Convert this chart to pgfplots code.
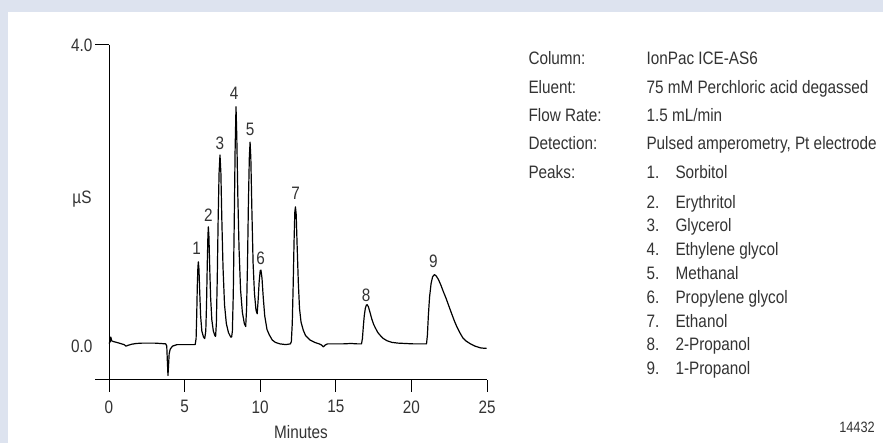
\documentclass[border=0pt]{standalone}
\usepackage{fontspec}
\setmainfont{Liberation Sans}[FakeStretch=0.85]
\usepackage{pgfplots}
\pgfplotsset{compat=1.18}
\definecolor{panel}{HTML}{DDE3EF}
\definecolor{txt}{HTML}{333333}

\begin{document}
\begin{tikzpicture}[x=1bp,y=1bp,font=\fontsize{18bp}{21bp}\selectfont]
\fill[panel] (0,0) rectangle (883,443);
\fill[white] (8,0) rectangle (883,431);
\begin{axis}[
  at={(109bp,63bp)}, anchor=south west,
  scale only axis, width=378bp, height=335bp,
  xmin=0, xmax=25, ymin=-0.45, ymax=4,
  axis lines=left, axis line style={-, line width=1bp, black},
  xtick={0,5,10,15,20,25},
  ytick={0,4}, yticklabels={0.0,4.0},
  tick align=outside, major tick length=12bp,
  xtick style={line width=1bp, black},
  ytick style={draw=none},
  ticklabel style={font=\fontsize{18bp}{21bp}\selectfont, text=txt},
  xticklabel style={yshift=-5bp},
  yticklabel style={xshift=-1bp},
  /pgf/number format/assume math mode=true,
  clip=false,
]
% chromatogram trace
\addplot[black, line width=1.2bp, line join=round] coordinates {
  (0.00,0.035) (0.08,0.06) (0.12,0.12) (0.18,0.07) (0.30,0.06) (0.50,0.05)
  (0.75,0.035) (1.00,0.02) (1.12,0.00) (1.25,0.01) (1.50,0.025) (1.80,0.035)
  (2.20,0.04) (2.60,0.04) (3.00,0.04) (3.40,0.035) (3.75,0.03) (3.82,0.00)
  (3.86,-0.20) (3.90,-0.39) (3.94,-0.25) (3.98,-0.10) (4.05,-0.04) (4.20,0.00)
  (4.50,0.02) (5.00,0.02) (5.50,0.02) (5.70,0.02)
  % peak 1
  (5.76,0.10) (5.80,0.40) (5.84,0.80) (5.88,1.05) (5.91,1.12) (5.95,1.02)
  (6.00,0.72) (6.06,0.40) (6.14,0.20) (6.25,0.12) (6.33,0.10)
  % peak 2
  (6.40,0.20) (6.45,0.55) (6.50,1.10) (6.54,1.45) (6.57,1.585) (6.61,1.45)
  (6.66,1.05) (6.72,0.65) (6.80,0.35) (6.90,0.20) (7.00,0.14) (7.05,0.13)
  % peak 3
  (7.10,0.30) (7.16,0.90) (7.22,1.70) (7.28,2.30) (7.34,2.54) (7.40,2.30)
  (7.46,1.70) (7.54,1.05) (7.64,0.55) (7.76,0.30) (7.90,0.18) (8.05,0.12)
  (8.11,0.12)
  % peak 4
  (8.16,0.20) (8.22,0.70) (8.28,1.60) (8.34,2.60) (8.40,3.18) (8.45,2.80)
  (8.52,2.00) (8.60,1.30) (8.70,0.75) (8.82,0.45) (8.95,0.30) (9.04,0.26)
  % peak 5
  (9.10,0.50) (9.16,1.10) (9.22,1.90) (9.28,2.50) (9.33,2.71) (9.38,2.50)
  (9.45,1.80) (9.53,1.10) (9.62,0.70) (9.72,0.48) (9.80,0.43)
  % peak 6
  (9.86,0.60) (9.93,0.85) (10.00,1.00) (10.05,1.01) (10.12,0.90) (10.20,0.65)
  (10.30,0.40) (10.45,0.22) (10.60,0.15) (10.80,0.08) (11.00,0.05) (11.30,0.03)
  (11.70,0.02) (12.00,0.03)
  % peak 7
  (12.06,0.06) (12.12,0.30) (12.18,0.80) (12.24,1.40) (12.29,1.78) (12.33,1.85)
  (12.38,1.75) (12.44,1.35) (12.52,0.85) (12.60,0.50) (12.70,0.32) (12.85,0.21)
  (13.00,0.14) (13.30,0.08) (13.60,0.05) (13.90,0.03) (14.05,0.015) (14.17,-0.01)
  (14.30,0.015) (14.45,0.03) (15.00,0.03) (15.50,0.03) (16.00,0.035) (16.40,0.03)
  (16.70,0.03)
  % peak 8
  (16.76,0.10) (16.82,0.26) (16.88,0.40) (16.95,0.50) (17.02,0.545) (17.08,0.55)
  (17.16,0.52) (17.26,0.45) (17.38,0.36) (17.50,0.29) (17.62,0.24) (17.78,0.18)
  (17.95,0.14) (18.15,0.10) (18.40,0.07) (18.70,0.05) (19.10,0.04) (19.60,0.035)
  (20.10,0.03) (20.60,0.03) (21.00,0.03)
  % peak 9
  (21.06,0.15) (21.12,0.40) (21.20,0.65) (21.30,0.83) (21.40,0.92) (21.52,0.95)
  (21.65,0.93) (21.80,0.88) (21.95,0.81) (22.10,0.73) (22.30,0.63) (22.50,0.52)
  (22.70,0.41) (22.85,0.33) (23.00,0.26) (23.20,0.18) (23.40,0.11) (23.60,0.07)
  (23.90,0.03) (24.20,0.00) (24.60,-0.025) (24.98,-0.03)
};
\node[text=txt] at (axis cs:5.80,1.30) {1};
\node[text=txt] at (axis cs:6.57,1.74) {2};
\node[text=txt] at (axis cs:7.34,2.69) {3};
\node[text=txt] at (axis cs:8.28,3.36) {4};
\node[text=txt] at (axis cs:9.33,2.88) {5};
\node[text=txt] at (axis cs:10.03,1.17) {6};
\node[text=txt] at (axis cs:12.35,2.03) {7};
\node[text=txt] at (axis cs:17.00,0.68) {8};
\node[text=txt] at (axis cs:21.45,1.12) {9};
\coordinate (ytop) at (axis cs:0,4);
\coordinate (xleft) at (axis cs:0,-0.45);
\end{axis}
\draw[line width=1bp] (ytop) -- ++(-14,0);
\draw[line width=1bp] (xleft) -- ++(-14,0);

\node[text=txt,anchor=base] at (301,4.5) {Minutes};
\node[text=txt,anchor=base] at (82,239.5) {µS};

\begin{scope}[every node/.style={text=txt,anchor=base west}]
\node at (525,378.5) {Column:};
\node at (643,378.5) {IonPac ICE-AS6};
\node at (525,349.8) {Eluent:};
\node at (643,349.8) {75 mM Perchloric acid degassed};
\node at (525,321.5) {Flow Rate:};
\node at (643,321.5) {1.5 mL/min};
\node at (525,293.5) {Detection:};
\node at (643,293.5) {Pulsed amperometry, Pt electrode};
\node at (525,264.5) {Peaks:};
\node at (643,264.5) {1.};
\node at (672,264.5) {Sorbitol};
\node at (643,234.8) {2.};
\node at (672,234.8) {Erythritol};
\node at (643,211.0) {3.};
\node at (672,211.0) {Glycerol};
\node at (643,187.2) {4.};
\node at (672,187.2) {Ethylene glycol};
\node at (643,163.4) {5.};
\node at (672,163.4) {Methanal};
\node at (643,139.6) {6.};
\node at (672,139.6) {Propylene glycol};
\node at (643,115.8) {7.};
\node at (672,115.8) {Ethanol};
\node at (643,92.0) {8.};
\node at (672,92.0) {2-Propanol};
\node at (643,68.2) {9.};
\node at (672,68.2) {1-Propanol};
\end{scope}
\node[text=txt,anchor=base] at (857,10) {\fontsize{15bp}{17bp}\selectfont 14432};

\pgfresetboundingbox
\path[use as bounding box] (0,0) rectangle (883,443);
\end{tikzpicture}
\end{document}
